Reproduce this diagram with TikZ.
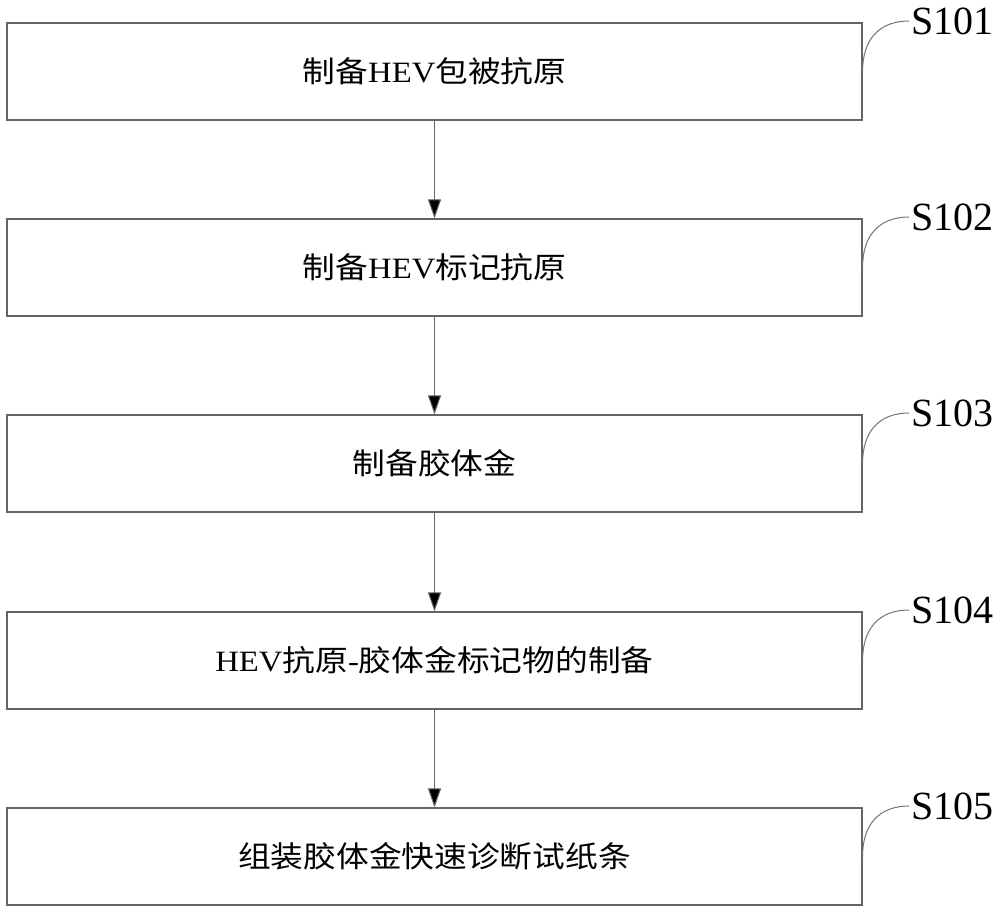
\documentclass[tikz,border=0pt]{standalone}
\usepackage{fontspec}
\usepackage{graphicx}
\setmainfont{Liberation Serif}
\newfontfamily\cjk{Noto Sans CJK SC}
\usetikzlibrary{arrows.meta}
\newcommand{\wide}[1]{\scalebox{1.11}[1]{#1}}
\begin{document}
\begin{tikzpicture}[x=1pt,y=-1pt,
  stepbox/.style={draw=black!60,line width=1.1pt,minimum width=855pt,minimum height=97pt,inner sep=0pt,font=\fontsize{29.5pt}{32pt}\selectfont},
  steplabel/.style={inner sep=0pt,font=\fontsize{40pt}{44pt}\selectfont},
  flow/.style={draw=black!60,line width=1pt,-{Triangle[length=19pt,width=13pt,fill=black]}},
  lead/.style={draw=black!55,line width=1pt}]
\useasboundingbox (0,0) rectangle (1000,914);
\node[stepbox] (b1) at (434.5,71.5) {\wide{{\cjk 制备}HEV{\cjk 包被抗原}}};
\node[stepbox] (b2) at (434.5,267.5) {\wide{{\cjk 制备}HEV{\cjk 标记抗原}}};
\node[stepbox] (b3) at (434.5,463.5) {\wide{{\cjk 制备胶体金}}};
\node[stepbox] (b4) at (434.5,660.5) {\wide{HEV{\cjk 抗原}-{\cjk 胶体金标记物的制备}}};
\node[stepbox] (b5) at (434.5,856.5) {\wide{{\cjk 组装胶体金快速诊断试纸条}}};
\node[steplabel,anchor=west] (l1) at (911,21) {S101};
\node[steplabel,anchor=west] (l2) at (911,217) {S102};
\node[steplabel,anchor=west] (l3) at (911,413) {S103};
\node[steplabel,anchor=west] (l4) at (911,610) {S104};
\node[steplabel,anchor=west] (l5) at (911,806) {S105};
\foreach \i in {1,...,5}{
  \draw[lead] (b\i.east) .. controls +(0,-32) and +(-30,0) .. ([xshift=-2pt]l\i.west);
}
\draw[flow] (b1) -- (b2);
\draw[flow] (b2) -- (b3);
\draw[flow] (b3) -- (b4);
\draw[flow] (b4) -- (b5);
\end{tikzpicture}
\end{document}
